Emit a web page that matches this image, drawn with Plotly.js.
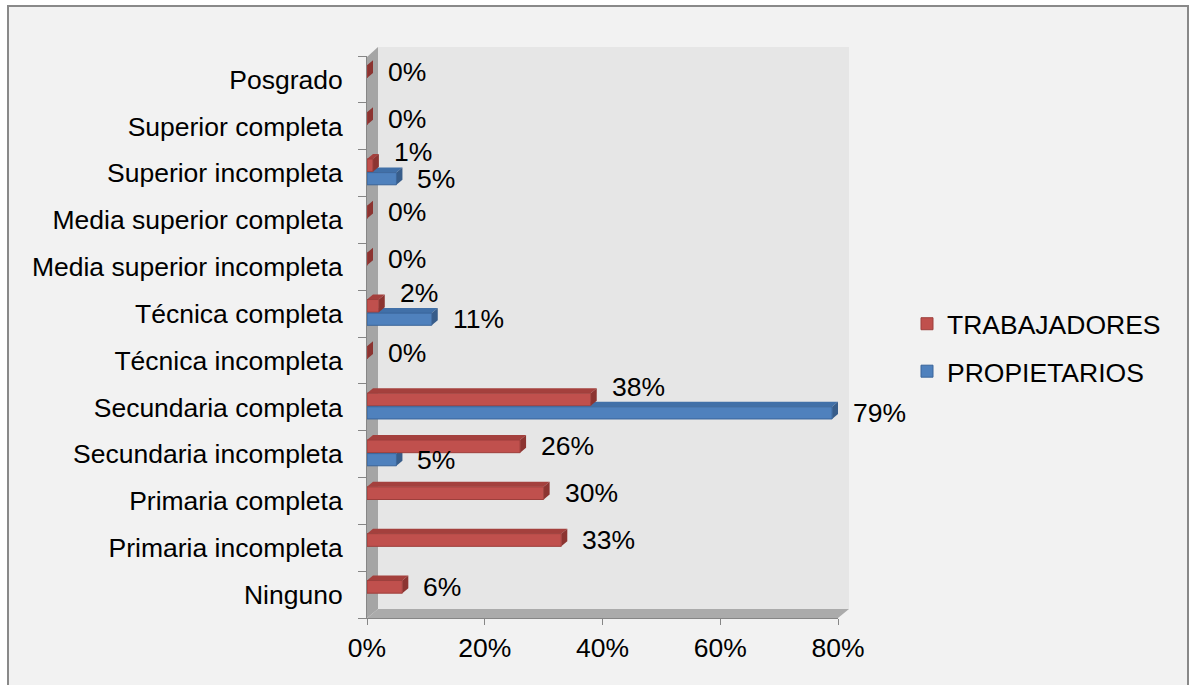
<!DOCTYPE html>
<html>
<head>
<meta charset="utf-8">
<script src="https://cdn.plot.ly/plotly-3.0.1.min.js"></script>
<style>html,body{margin:0;padding:0;background:#fff;}#chart{width:1189px;height:685px;}</style>
</head>
<body>
<div id="chart"></div>
<script>
const categories = ['Ninguno','Primaria incompleta','Primaria completa','Secundaria incompleta','Secundaria completa','Técnica incompleta','Técnica completa','Media superior incompleta','Media superior completa','Superior incompleta','Superior completa','Posgrado'];
const trabajadores = [6,33,30,26,38,0,2,0,0,1,0,0];
const propietarios = [null,null,null,5,79,null,11,null,null,5,null,null];
const xTicks = [0,20,40,60,80];
const seriesNames = ['TRABAJADORES','PROPIETARIOS'];

// layout constants (pixels)
const W = 1189, H = 685;
const M = {l:367, r:351, t:56, b:67};
const PW = W - M.l - M.r, PH = H - M.t - M.b;
const XMAX = 80;
const pxPerX = PW / XMAX, pxPerY = PH / categories.length;
const fx = px => (px - M.l) / PW;
const fy = py => (H - M.b - py) / PH;
const FONT = 'Liberation Sans, Arial, sans-serif';
const FS = 26.5;

const pos = categories.map((_, i) => i);
const RED = {front:'#c0504d', line:'#9d3f3c', top:'#a4403d', side:'#8c3431', off:0.03, w:0.27};
const BLUE = {front:'#4f81bd', line:'#3a659a', top:'#4170a8', side:'#385d8a', off:-0.25, w:0.26};
const DX = 6 / pxPerX, DY = 5 / pxPerY;

function barTrace(name, vals, st, grp) {
  return {
    type:'bar', orientation:'h', name:name, x:vals, y:pos,
    offset:st.off, width:st.w, legendgroup:grp,
    marker:{color:st.front, line:{color:st.line, width:1}},
    hoverinfo:'skip'
  };
}

const shapes = [];
// outer frame
shapes.push({type:'rect', xref:'paper', yref:'paper', x0:fx(8), x1:fx(1188), y0:fy(720), y1:fy(6),
  fillcolor:'#f2f2f2', line:{color:'#898989', width:2}, layer:'below'});
// back wall
shapes.push({type:'rect', xref:'paper', yref:'paper', x0:fx(378), x1:fx(849), y0:fy(609), y1:fy(47),
  fillcolor:'#e6e6e6', line:{width:0}, layer:'below'});
// left wall
shapes.push({type:'path', xref:'paper', yref:'paper', layer:'below', line:{width:0}, fillcolor:'#a5a5a5',
  path:`M${fx(367)},${fy(57)} L${fx(378)},${fy(47)} L${fx(378)},${fy(609)} L${fx(367)},${fy(618)} Z`});
// floor
shapes.push({type:'path', xref:'paper', yref:'paper', layer:'below', line:{width:0}, fillcolor:'#ababab',
  path:`M${fx(367)},${fy(618)} L${fx(378)},${fy(609)} L${fx(849)},${fy(609)} L${fx(838)},${fy(618)} Z`});

function addFaces(vals, st) {
  vals.forEach((v, i) => {
    if (v === null) return;
    const y0 = i + st.off, y1 = i + st.off + st.w;
    shapes.push({type:'path', xref:'x', yref:'y', layer:'between', line:{width:0}, fillcolor:st.top,
      path:`M0,${y1} L${v},${y1} L${v+DX},${y1+DY} L${DX},${y1+DY} Z`});
    shapes.push({type:'path', xref:'x', yref:'y', layer:'between', line:{width:0}, fillcolor:st.side,
      path:`M${v},${y0} L${v},${y1} L${v+DX},${y1+DY} L${v+DX},${y0+DY} Z`});
  });
}
addFaces(propietarios, BLUE);
addFaces(trabajadores, RED);

const annotations = [];
function addLabels(vals, st, other) {
  vals.forEach((v, i) => {
    if (v === null) return;
    const lift = (other && other[i] !== null && other[i] > v) ? 13 : 0;
    annotations.push({x:v, y:i + st.off + st.w/2, xref:'x', yref:'y', text:v + '%', showarrow:false,
      xanchor:'left', yanchor:'middle', xshift:19, yshift:lift, font:{family:FONT, size:FS, color:'#000'}});
  });
}
addLabels(propietarios, BLUE, null);
addLabels(trabajadores, RED, propietarios);

const data = [
  barTrace(seriesNames[0], trabajadores, RED, 't'),
  barTrace(seriesNames[1], propietarios, BLUE, 'p')
];

const layout = {
  width:W, height:H, margin:M,
  paper_bgcolor:'#ffffff', plot_bgcolor:'rgba(0,0,0,0)',
  barmode:'overlay', showlegend:true,
  font:{family:FONT, size:FS, color:'#000'},
  xaxis:{range:[0, XMAX], tickmode:'array', tickvals:xTicks, ticktext:xTicks.map(v => v + '%'),
    showgrid:false, zeroline:false, showline:true, linecolor:'#868686', linewidth:1,
    ticks:'outside', ticklen:6, tickcolor:'#868686', ticklabelstandoff:0,
    tickfont:{family:FONT, size:FS, color:'#000'}, automargin:false, fixedrange:true},
  yaxis:{range:[-0.5, categories.length - 0.5], tickmode:'array', tickvals:pos, ticktext:categories,
    showgrid:false, zeroline:false, showline:true, linecolor:'#868686', linewidth:1,
    ticks:'', ticklabelstandoff:18,
    minor:{tick0:-0.5, dtick:1, ticks:'outside', ticklen:8, tickcolor:'#868686', showgrid:false},
    tickfont:{family:FONT, size:FS, color:'#000'}, automargin:false, fixedrange:true},
  legend:{x:fx(907), xanchor:'left', y:fy(300), yanchor:'top', bgcolor:'rgba(0,0,0,0)',
    traceorder:'grouped', tracegroupgap:10, font:{family:FONT, size:FS, color:'#000'}},
  shapes:shapes, annotations:annotations
};

Plotly.newPlot('chart', data, layout, {displayModeBar:false, staticPlot:true});
</script>
</body>
</html>
